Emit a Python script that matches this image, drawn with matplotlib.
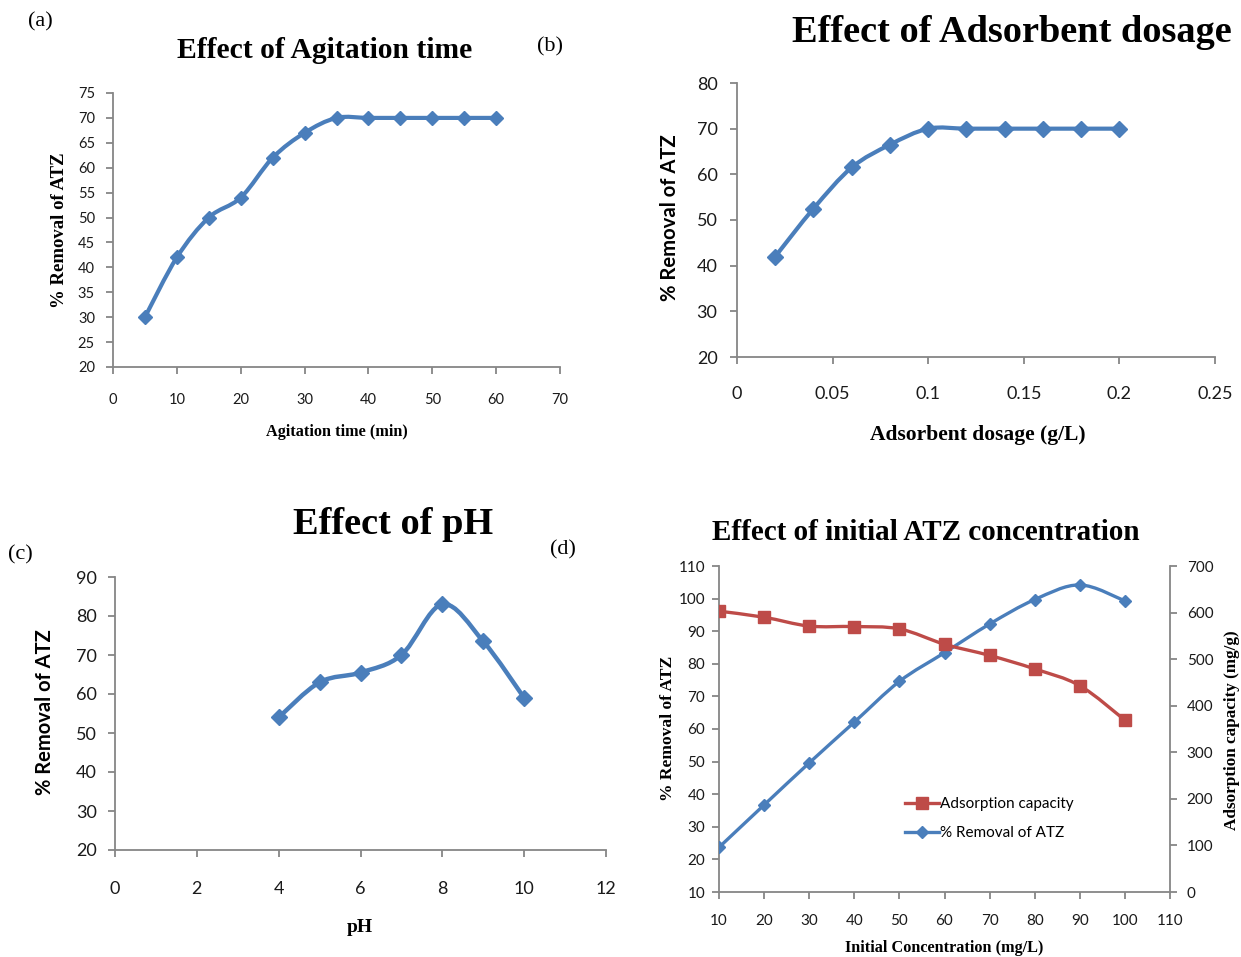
import numpy as np
import matplotlib
matplotlib.use("Agg")
import matplotlib.pyplot as plt
from matplotlib.path import Path
from matplotlib.patches import PathPatch

# (a) agitation time
time_min = [5, 10, 15, 20, 25, 30, 35, 40, 45, 50, 55, 60]
removal_time = [30, 42, 50, 54, 62, 67, 70, 70, 70, 70, 70, 70]

# (b) adsorbent dosage
dosage = [0.02, 0.04, 0.06, 0.08, 0.10, 0.12, 0.14, 0.16, 0.18, 0.20]
removal_dose = [42, 52.5, 61.5, 66.5, 70, 70, 70, 70, 70, 70]

# (c) pH
ph = [4, 5, 6, 7, 8, 9, 10]
removal_ph = [54, 63, 65.5, 70, 83, 73.5, 59]

# (d) initial concentration
conc = [10, 20, 30, 40, 50, 60, 70, 80, 90, 100]
removal_conc = [23.7, 36.7, 49.6, 62.1, 74.6, 83.4, 92.2, 99.7, 104.2, 99.3]
capacity = [603, 590, 571, 570, 565, 532, 508, 479, 443, 369]

W, H = 1241, 957
BLUE = "#4A7EBB"
RED = "#BE4B48"
GRID = "#868686"
TICK_TXT = "#1a1a1a"
SERIF = "Liberation Serif"
SANS = "Lato"


def px_axes(fig, left, right, top, bottom):
    return fig.add_axes([left / W, 1 - bottom / H, (right - left) / W, (bottom - top) / H])


def smooth_line(ax, x, y, color, lw):
    # Excel-style smoothed line: Catmull-Rom segments as cubic Beziers
    pts = np.column_stack([x, y]).astype(float)
    n = len(pts)
    verts = [pts[0]]
    codes = [Path.MOVETO]
    for i in range(n - 1):
        p0 = pts[max(i - 1, 0)]
        p1 = pts[i]
        p2 = pts[i + 1]
        p3 = pts[min(i + 2, n - 1)]
        c1 = p1 + (p2 - p0) / 6.0
        c2 = p2 - (p3 - p1) / 6.0
        verts += [c1, c2, p2]
        codes += [Path.CURVE4] * 3
    ax.add_patch(PathPatch(Path(verts, codes), fill=False, edgecolor=color,
                           lw=lw, capstyle="round", joinstyle="round", zorder=2))


def style_axes(ax, xpad, ypad, fsize):
    for s in ["top", "right"]:
        ax.spines[s].set_visible(False)
    for s in ["left", "bottom"]:
        ax.spines[s].set_color(GRID)
        ax.spines[s].set_linewidth(1.3)
    ax.tick_params(axis="x", length=5, width=1.3, color=GRID, pad=xpad,
                   labelsize=fsize, labelcolor=TICK_TXT)
    ax.tick_params(axis="y", length=5, width=1.3, color=GRID, pad=ypad,
                   labelsize=fsize, labelcolor=TICK_TXT)
    for lab in ax.get_xticklabels() + ax.get_yticklabels():
        lab.set_fontfamily(SANS)


fig = plt.figure(figsize=(W / 100, H / 100), dpi=100)

# ---- (a) ----
ax = px_axes(fig, 113, 560, 93, 367)
smooth_line(ax, time_min, removal_time, BLUE, 3)
ax.plot(time_min, removal_time, "D", color=BLUE, ms=7.5, zorder=3)
ax.set_xlim(0, 70)
ax.set_ylim(20, 75)
ax.set_xticks(range(0, 71, 10))
ax.set_yticks(range(20, 76, 5))
style_axes(ax, 14, 8, 10.5)
fig.text(325 / W, 1 - 50 / H, "Effect of Agitation time", family=SERIF,
         weight="bold", size=21.3, ha="center", va="center")
fig.text(60 / W, 1 - 230 / H, "% Removal of ATZ", family=SERIF, weight="bold",
         size=13.5, rotation=90, ha="center", va="center")
fig.text(337 / W, 1 - 432 / H, "Agitation time (min)", family=SERIF,
         weight="bold", size=11.7, ha="center", va="center")

# ---- (b) ----
ax = px_axes(fig, 737, 1215, 83, 357)
smooth_line(ax, dosage, removal_dose, BLUE, 3)
ax.plot(dosage, removal_dose, "D", color=BLUE, ms=8, zorder=3)
ax.set_xlim(0, 0.25)
ax.set_ylim(20, 80)
ax.set_xticks([0, 0.05, 0.1, 0.15, 0.2, 0.25])
ax.set_xticklabels(["0", "0.05", "0.1", "0.15", "0.2", "0.25"])
ax.set_yticks(range(20, 81, 10))
style_axes(ax, 16, 9, 13)
fig.text(1012 / W, 1 - 32 / H, "Effect of Adsorbent dosage", family=SERIF,
         weight="bold", size=27.6, ha="center", va="center")
fig.text(670 / W, 1 - 218 / H, "% Removal of ATZ", family=SANS, weight="bold",
         size=14.6, rotation=90, ha="center", va="center")
fig.text(978 / W, 1 - 435 / H, "Adsorbent dosage (g/L)", family=SERIF,
         weight="bold", size=15.5, ha="center", va="center")

# ---- (c) ----
ax = px_axes(fig, 115, 606, 577, 850)
smooth_line(ax, ph, removal_ph, BLUE, 3.2)
ax.plot(ph, removal_ph, "D", color=BLUE, ms=8.5, zorder=3)
ax.set_xlim(0, 12)
ax.set_ylim(20, 90)
ax.set_xticks(range(0, 13, 2))
ax.set_yticks(range(20, 91, 10))
style_axes(ax, 17, 8, 13)
fig.text(393 / W, 1 - 525 / H, "Effect of pH", family=SERIF, weight="bold",
         size=27.6, ha="center", va="center")
fig.text(45 / W, 1 - 712 / H, "% Removal of ATZ", family=SANS, weight="bold",
         size=14.5, rotation=90, ha="center", va="center")
fig.text(360 / W, 1 - 928 / H, "pH", family=SERIF, weight="bold", size=14,
         ha="center", va="center")

# ---- (d) ----
ax = px_axes(fig, 719, 1170, 566, 892)
ax2 = ax.twinx()
smooth_line(ax, conc, removal_conc, BLUE, 2.4)
ax.plot(conc, removal_conc, "D", color=BLUE, ms=6.5, zorder=3)
smooth_line(ax2, conc, capacity, RED, 2.4)
ax2.plot(conc, capacity, "s", color=RED, ms=9, zorder=3)
ax.set_xlim(10, 110)
ax.set_ylim(10, 110)
ax2.set_ylim(0, 700)
ax.set_xticks(range(10, 111, 10))
ax.set_yticks(range(10, 111, 10))
ax2.set_yticks(range(0, 701, 100))
style_axes(ax, 11, 5, 11)
ax2.spines["top"].set_visible(False)
ax2.spines["left"].set_visible(False)
ax2.spines["bottom"].set_visible(False)
ax2.spines["right"].set_color(GRID)
ax2.spines["right"].set_linewidth(1.3)
ax2.tick_params(axis="y", length=5, width=1.3, color=GRID, pad=7,
                labelsize=11, labelcolor=TICK_TXT)
for lab in ax2.get_yticklabels():
    lab.set_fontfamily(SANS)

h_red, = ax2.plot([], [], "-s", color=RED, lw=2.4, ms=9)
h_blue, = ax2.plot([], [], "-D", color=BLUE, lw=2.4, ms=6.5)
leg = ax2.legend([h_red, h_blue], ["Adsorption capacity", "% Removal of ATZ"],
                 loc="upper left", bbox_to_anchor=(180 / 451, 1 - 225 / 326),
                 frameon=False, prop={"family": SANS, "size": 11},
                 handlelength=2.2, handletextpad=0.1, labelspacing=1.0,
                 borderaxespad=0)

fig.text(926 / W, 1 - 533 / H, "Effect of initial ATZ concentration",
         family=SERIF, weight="bold", size=21, ha="center", va="center")
fig.text(668 / W, 1 - 728 / H, "% Removal of ATZ", family=SERIF, weight="bold",
         size=12.6, rotation=90, ha="center", va="center")
fig.text(1232 / W, 1 - 730 / H, "Adsorption capacity (mg/g)", family=SERIF,
         weight="bold", size=12.3, rotation=90, ha="center", va="center")
fig.text(944 / W, 1 - 948 / H, "Initial Concentration (mg/L)", family=SERIF,
         weight="bold", size=11.7, ha="center", va="center")

# panel letters
for lbl, xp, yp in [("(a)", 40, 22), ("(b)", 550, 47), ("(c)", 20, 555), ("(d)", 563, 550)]:
    fig.text(xp / W, 1 - yp / H, lbl, family=SERIF, size=16, ha="center", va="center")

fig.savefig("out.png", dpi=100)
